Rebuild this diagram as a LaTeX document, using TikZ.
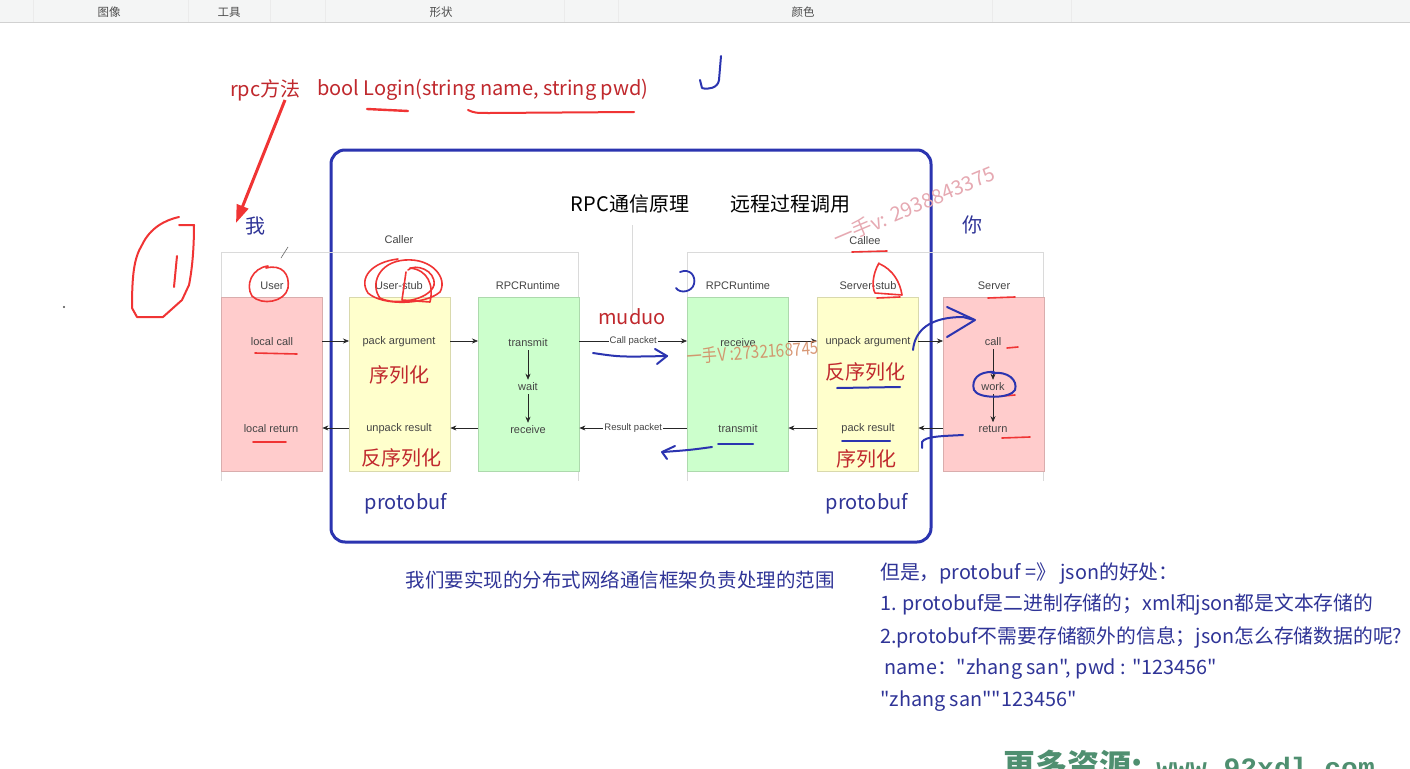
\documentclass[tikz,border=0pt]{standalone}
\usepackage{fontspec}
\setmainfont{Noto Sans CJK SC}
\newfontfamily\arialf{Liberation Sans}
\newfontfamily\monof{Liberation Mono}
\newfontfamily\cjknt{Noto Sans CJK SC}[Ligatures=TeXOff]
\newfontfamily\cjkb{Noto Sans CJK SC}
\usetikzlibrary{arrows.meta}
\definecolor{dred}{HTML}{C0282D}
\definecolor{bred}{HTML}{F03434}
\definecolor{hblue}{HTML}{2B34B0}
\definecolor{tblue}{HTML}{2F3497}
\definecolor{pinkbox}{HTML}{FFCCCC}
\definecolor{yelbox}{HTML}{FFFFCC}
\definecolor{grnbox}{HTML}{CCFFCC}
\definecolor{framegray}{HTML}{DADADA}
\definecolor{barbg}{HTML}{F4F5F5}
\definecolor{lblgray}{HTML}{444444}
\definecolor{wmpink}{HTML}{E6A9B2}
\definecolor{wmorange}{HTML}{D2865E}
\definecolor{wmgreen}{HTML}{4F8F70}
\tikzset{
  big/.style={font=\fontsize{20}{24}\selectfont, inner sep=1pt},
  redtxt/.style={big, text=dred},
  bluetxt/.style={big, text=tblue},
  lbl/.style={font=\arialf\fontsize{11}{13}\selectfont, text=lblgray, inner sep=3pt},
  pktlbl/.style={font=\arialf\fontsize{9.5}{11}\selectfont, text=lblgray, fill=white, inner sep=1pt},
  colbox/.style={draw=#1!85!black, line width=0.4pt, fill=#1, minimum width=101pt, minimum height=174pt, anchor=north west, inner sep=0pt},
  arr/.style={-{Stealth[length=6pt,width=5pt]}, line width=0.6pt, black!85},
  frame/.style={draw=framegray, line width=0.8pt},
  redhand/.style={draw=bred, line width=2pt, line cap=round, line join=round},
  bluehand/.style={draw=hblue, line width=2pt, line cap=round, line join=round},
  bar/.style={font=\fontsize{11.5}{13}\selectfont, text=black!70},
}
\begin{document}
\begin{tikzpicture}[x=1pt,y=-1pt]
\useasboundingbox (0,0) rectangle (1410,768);
\fill[white] (0,0) rectangle (1410,768);
% toolbar
\fill[barbg] (0,0) rectangle (1410,22);
\draw[black!18, line width=1pt] (0,22.5) -- (1410,22.5);
\foreach \sx in {33,188,270,325,564,618,992,1071}{\draw[black!8] (\sx,0) -- (\sx,22);}
\node[bar] (tb1) at (109,12) {图像};
\node[bar] (tb2) at (229,12) {工具};
\node[bar] (tb3) at (441,12) {形状};
\node[bar] (tb4) at (803,12) {颜色};

% top text
\node[redtxt, anchor=west] (rpcm) at (229,90) {rpc方法};
\node[redtxt, anchor=west] (login) at (316,90) {bool Login(string name, string pwd)};

% big blue frame
\draw[hblue, line width=3pt, rounded corners=14pt] (331,150) rectangle (931,542);

\node[big, text=black] (t1) at (630,204) {RPC通信原理};
\node[big, text=black] (t2) at (790,204) {远程过程调用};
\draw[framegray, line width=0.8pt] (632,225) -- (632,318);

% group frames
\draw[frame] (221,481) |- (578,252) -- (578,481);
\draw[frame] (687,481) |- (1043,252) -- (1043,481);
\node[lbl] (caller) at (399,240) {Caller};
\node[lbl] (callee) at (865,241) {Callee};

% headers
\node[lbl] (hu) at (272,286) {User};
\node[lbl] (hus) at (399,286) {User-stub};
\node[lbl] (hr1) at (528,286) {RPCRuntime};
\node[lbl] (hr2) at (738,286) {RPCRuntime};
\node[lbl] (hss) at (868,286) {Server-stub};
\node[lbl] (hs) at (994,286) {Server};

% boxes
\node[colbox=pinkbox] (bu) at (221,297) {};
\node[colbox=yelbox] (bus) at (349,297) {};
\node[colbox=grnbox] (br1) at (478,297) {};
\node[colbox=grnbox] (br2) at (687,297) {};
\node[colbox=yelbox] (bss) at (817,297) {};
\node[colbox=pinkbox] (bs) at (943,297) {};

% labels in boxes
\node[lbl] (lcall) at (272,342) {local call};
\node[lbl] (lret) at (271,429) {local return};
\node[lbl] (pack) at (399,342) {pack argument};
\node[lbl] (unpackr) at (399,429) {unpack result};
\node[lbl] (tr1) at (528,343) {transmit};
\node[lbl] (wait) at (528,387) {wait};
\node[lbl] (rc1) at (528,430) {receive};
\node[lbl] (rc2) at (738,343) {receive};
\node[lbl] (tr2) at (738,429) {transmit};
\node[lbl] (unpacka) at (868,342) {unpack argument};
\node[lbl] (packr) at (868,429) {pack result};
\node[lbl] (call) at (993,342) {call};
\node[lbl] (work) at (993,387) {work};
\node[lbl] (ret) at (993,429) {return};

% arrows
\draw[arr] (bu.east |- 0,341) -- (bus.west |- 0,341);
\draw[arr] (bus.east |- 0,341) -- (br1.west |- 0,341);
\draw[arr] (br1.east |- 0,341) -- node[pktlbl] (cpk) {Call packet} (br2.west |- 0,341);
\draw[arr] (br2.east |- 0,341) -- (bss.west |- 0,341);
\draw[arr] (bss.east |- 0,341) -- (bs.west |- 0,341);
\draw[arr] (bs.west |- 0,428) -- (bss.east |- 0,428);
\draw[arr] (bss.west |- 0,428) -- (br2.east |- 0,428);
\draw[arr] (br2.west |- 0,428) -- node[pktlbl] (rpk) {Result packet} (br1.east |- 0,428);
\draw[arr] (br1.west |- 0,428) -- (bus.east |- 0,428);
\draw[arr] (bus.west |- 0,428) -- (bu.east |- 0,428);
\draw[arr] (tr1) -- (wait);
\draw[arr] (wait) -- (rc1);
\draw[arr] (call) -- (work);
\draw[arr] (work) -- (ret);

% red/blue annotations text
\node[redtxt] (ser1) at (399,375) {序列化};
\node[redtxt] (deser1) at (401,458) {反序列化};
\node[redtxt] (deser2) at (865,372) {反序列化};
\node[redtxt] (ser2) at (866,459) {序列化};
\node[redtxt] (muduo) at (632,317) {muduo};
\node[bluetxt] (pb1) at (406,504) {protobuf};
\node[bluetxt] (pb2) at (867,504) {protobuf};
\node[bluetxt] (wo) at (255,226) {我};
\node[bluetxt] (ni) at (972,225) {你};

% bottom text
\node[bluetxt, font=\fontsize{19.5}{23}\selectfont] (scope) at (620,580) {我们要实现的分布式网络通信框架负责处理的范围};
\begin{scope}[every node/.style={bluetxt, font=\cjknt\fontsize{19.8}{23}\selectfont, anchor=west}]
\node (r1) at (879,574) {但是，protobuf =》 json的好处：};
\node (r2) at (879,605) {1. protobuf是二进制存储的；xml和json都是文本存储的};
\node (r3) at (879,637) {2.protobuf不需要存储额外的信息；json怎么存储数据的呢?};
\node (r4) at (879,669) {\ name："zhang san", pwd : "123456"};
\node (r5) at (879,701) {"zhang san""123456"};
\end{scope}

% watermarks
\node[font=\fontsize{20}{22}\selectfont, text=wmpink, rotate=23] (wm1) at (914,206) {一手v: 2938843375};
\node[font=\fontsize{18}{22}\selectfont, text=wmorange, opacity=0.85, rotate=4, xscale=0.85] (wm2) at (753,352) {一手V :2732168745};
\begin{scope}
\clip (0,0) rectangle (1410,768);
\node[text=wmgreen, anchor=north west, inner sep=0pt] (wm3) at (1003,750) {{\cjkb\bfseries\fontsize{32}{34}\selectfont 更多资源:}\hspace{14pt}{\monof\bfseries\fontsize{28}{30}\selectfont www.92xdl.com}};
\end{scope}

% dot
\fill[black!70] (64,307) circle (1.2pt);

% red hand annotations
\draw[bred, line width=3pt, -{Triangle[length=18pt,width=12pt]}] (285,100) -- (236,223);
\draw[redhand] (179,217) .. controls (165,220) and (150,228) .. (142,245) .. controls (134,258) and (132,275) .. (132,308) -- (137,317) -- (163,317) -- (182,300) -- (189,285) .. controls (192,270) and (194,250) .. (194,225) -- (179,225);
\draw[redhand] (177,256) -- (174,287);
\draw[redhand, line width=2.4pt] (367,109) -- (408,111);
\draw[redhand, line width=2pt] (468,110) .. controls (475,113) .. (490,113) -- (634,112);
\draw[redhand, line width=1.6pt] (268,266) .. controls (252,268) and (245,285) .. (252,296) .. controls (262,306) and (285,302) .. (288,288) .. controls (290,274) and (282,264) .. (266,268);
\draw[redhand, line width=1.6pt] (398,259) .. controls (372,262) and (358,278) .. (368,293) .. controls (382,306) and (425,305) .. (440,292) .. controls (448,278) and (432,258) .. (405,260) .. controls (378,262) and (370,285) .. (380,298) .. controls (395,306) and (430,300) .. (434,285) .. controls (436,270) and (415,263) .. (408,270);
\draw[redhand, line width=1.6pt] (406,272) -- (402,300) -- (430,302) .. controls (434,285) and (428,270) .. (410,268);
\draw[redhand, line width=1.6pt] (255,353) -- (297,354);
\draw[redhand, line width=1.6pt] (253,442) -- (286,442);
\draw[redhand, line width=1.6pt] (852,252) -- (887,251);
\draw[redhand, line width=1.6pt] (879,263) .. controls (872,275) and (872,288) .. (875,293) -- (902,295) .. controls (900,282) and (893,270) .. (880,264);
\draw[redhand, line width=1.6pt] (877,298) -- (900,297);
\draw[redhand, line width=1.6pt] (988,298) -- (1015,297);
\draw[redhand, line width=1.6pt] (1007,348) -- (1018,347);
\draw[redhand, line width=1.6pt] (1003,396) -- (1015,395);
\draw[redhand, line width=1.6pt] (1002,438) -- (1030,437);
\draw[black!60, line width=0.6pt] (288,247) -- (281,258);

% blue hand annotations
\draw[bluehand] (721,56) -- (719,80) .. controls (718,88) and (708,90) .. (702,88) -- (700,80);
\draw[bluehand, line width=1.8pt] (680,272) .. controls (690,268) and (696,276) .. (694,284) .. controls (692,292) and (680,294) .. (676,288);
\draw[bluehand] (593,353) .. controls (620,357) .. (667,356);
\draw[bluehand] (655,349) -- (667,356) -- (657,364);
\draw[bluehand] (712,447) .. controls (690,450) .. (663,452);
\draw[bluehand] (675,446) -- (662,452) -- (667,459);
\draw[bluehand] (718,444) -- (753,444);
\draw[bluehand] (837,388) -- (900,387);
\draw[bluehand] (842,441) -- (890,441);
\draw[bluehand] (913,350) .. controls (915,330) and (930,317) .. (963,317) -- (974,320);
\draw[bluehand] (947,307) -- (975,320) -- (947,337);
\draw[bluehand] (963,435) .. controls (945,436) and (925,436) .. (922,442) -- (922,448);
\draw[bluehand] (994,372) .. controls (978,371) and (971,380) .. (974,390) .. controls (978,399) and (1010,399) .. (1015,390) .. controls (1018,380) and (1008,371) .. (992,373);
\end{tikzpicture}
\end{document}
